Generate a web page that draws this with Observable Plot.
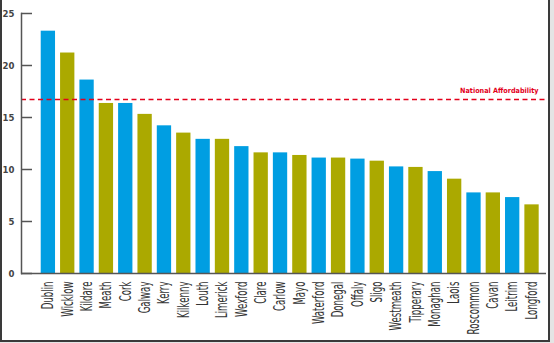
<!DOCTYPE html>
<html><head><meta charset="utf-8">
<script src="https://cdn.jsdelivr.net/npm/d3@7"></script>
<script src="https://cdn.jsdelivr.net/npm/@observablehq/plot@0.6"></script>
<style>
html,body{margin:0;padding:0;background:#e4e4e4;}
#wrap{position:relative;width:554px;height:343px;overflow:hidden;}
#frame{position:absolute;left:0;top:-2px;width:546px;height:340px;background:#fff;border:2px solid #3a3a3a;}
#chart{position:absolute;left:0;top:0;}
</style></head><body>
<div id="wrap"><div id="frame"></div><div id="chart"></div></div>
<script>
const counties = ["Dublin","Wicklow","Kildare","Meath","Cork","Galway","Kerry","Kilkenny","Louth","Limerick","Wexford","Clare","Carlow","Mayo","Waterford","Donegal","Offaly","Sligo","Westmeath","Tipperary","Monaghan","Laois","Roscommon","Cavan","Leitrim","Longford"];
const values = [23.3,21.2,18.6,16.35,16.35,15.3,14.2,13.5,12.9,12.9,12.2,11.6,11.6,11.35,11.1,11.1,11.0,10.8,10.25,10.2,9.8,9.07,7.75,7.75,7.3,6.6];
const groups = ["a","b","a","b","a","b","a","b","a","b","a","b","a","b","a","b","a","b","a","b","a","b","a","b","a","b"];
const yTicks = [0,5,10,15,20,25];
const nationalAffordability = 16.73;
const nationalLabel = "National Affordability";

const data = counties.map((c,i)=>({county:c, value:values[i], group:groups[i]}));

const chart = Plot.plot({
  width: 554, height: 343,
  marginLeft: 21, marginRight: 8, marginTop: 13, marginBottom: 70,
  style: {background: "transparent", fontFamily: "'DejaVu Sans Condensed',sans-serif", color:"#333"},
  x: {domain: counties, range: [38.2, 541.2], paddingInner: 0.26, paddingOuter: 0.13, round: false, label: null},
  y: {domain: [0,25], label: null},
  color: {domain: ["a","b"], range: ["#009ee2","#aba900"]},
  marks: [
    Plot.barY(data, {x:"county", y:"value", fill:"group"}),
    Plot.ruleY([nationalAffordability], {stroke:"#e3001b", strokeWidth:1.5, strokeDasharray:"5,3.5"}),
    Plot.text([nationalAffordability], {y: d=>d, frameAnchor:"right", textAnchor:"end", dx:-8, dy:-9, text: ()=>nationalLabel, fill:"#e3001b", fontWeight:"bold", fontSize:7.2}),
    Plot.frame({anchor:"left", stroke:"#555", strokeWidth:1.5}),
    Plot.ruleY([0], {stroke:"#555", strokeWidth:1.5}),
    Plot.axisY(yTicks, {tickSize:-11, tickPadding:18, stroke:"#555", strokeWidth:1.5, fontSize:9.5, fontWeight:"bold", fill:"#444", label:null}),
    Plot.axisX({tickSize:0, tickRotate:-90, tickPadding:8, textAnchor:"end", fontSize:12, fill:"#333", label:null})
  ]
});
document.getElementById("chart").appendChild(chart);
d3.select(chart).selectAll('g[aria-label="x-axis tick label"] text').each(function(){
  const t = this.getAttribute("transform") || "";
  this.setAttribute("transform", t + " scale(0.8,1.25)");
});
</script>
</body></html>
